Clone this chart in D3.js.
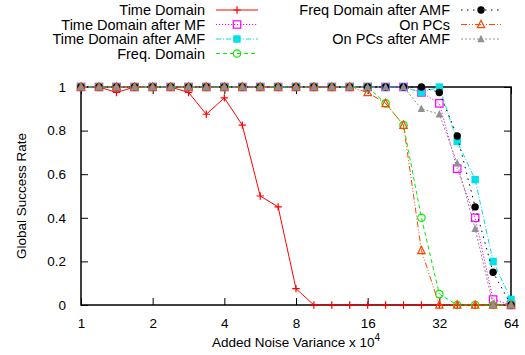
<!DOCTYPE html>
<html>
<head>
<meta charset="utf-8">
<script src="https://cdn.jsdelivr.net/npm/d3@7"></script>
<style>
  html, body { margin: 0; padding: 0; background: #fff; }
  svg { display: block; font-family: "Liberation Sans", Arial, Helvetica, sans-serif; }
</style>
</head>
<body>
<svg id="chart" width="525" height="355"></svg>
<script>
// Added noise variance (x 10^4), quarter-octave steps
const noise = [1, 1.19, 1.41, 1.68, 2, 2.38, 2.83, 3.36, 4, 4.76, 5.66, 6.73, 8,
               9.51, 11.31, 13.45, 16, 19.03, 22.63, 26.91, 32, 38.05, 45.25, 53.82, 64];

const timeDomain     = [1, 1, 0.975, 1, 1, 1, 0.975, 0.875, 0.95, 0.825, 0.5, 0.45, 0.075,
                        0, 0, 0, 0, 0, 0, 0, 0, 0, 0, 0, 0];
const timeDomainMF   = [1, 1, 1, 1, 1, 1, 1, 1, 1, 1, 1, 1, 1,
                        1, 1, 1, 1, 1, 1, 0.975, 0.925, 0.625, 0.4, 0.025, 0];
const timeDomainAMF  = [1, 1, 1, 1, 1, 1, 1, 1, 1, 1, 1, 1, 1,
                        1, 1, 1, 1, 1, 1, 0.975, 1, 0.75, 0.575, 0.2, 0.025];
const freqDomain     = [1, 1, 1, 1, 1, 1, 1, 1, 1, 1, 1, 1, 1,
                        1, 1, 1, 1, 0.925, 0.825, 0.4, 0.05, 0, 0, 0, 0];
const freqDomainAMF  = [1, 1, 1, 1, 1, 1, 1, 1, 1, 1, 1, 1, 1,
                        1, 1, 1, 1, 1, 1, 1, 0.975, 0.775, 0.45, 0.15, 0];
const onPCs          = [1, 1, 1, 1, 1, 1, 1, 1, 1, 1, 1, 1, 1,
                        1, 1, 1, 0.975, 0.925, 0.825, 0.25, 0, 0, 0, 0, 0];
const onPCsAMF       = [1, 1, 1, 1, 1, 1, 1, 1, 1, 1, 1, 1, 1,
                        1, 1, 1, 1, 1, 1, 0.9, 0.875, 0.65, 0.35, 0, 0];

const xTicks = [1, 2, 4, 8, 16, 32, 64];
const yTicks = [0, 0.2, 0.4, 0.6, 0.8, 1];

const series = [
  { name: "Time Domain",            values: timeDomain,    color: "#ff0000", dash: null,          marker: "plus",   col: 0, row: 0 },
  { name: "Time Domain after MF",   values: timeDomainMF,  color: "#ff00ff", dash: "1.2,1.8",     marker: "square", col: 0, row: 1 },
  { name: "Time Domain after AMF",  values: timeDomainAMF, color: "#00e0e8", dash: "5,2,1,2",     marker: "fsquare",col: 0, row: 2 },
  { name: "Freq. Domain",           values: freqDomain,    color: "#00ee00", dash: "4,3",         marker: "circle", col: 0, row: 3 },
  { name: "Freq Domain after AMF",  values: freqDomainAMF, color: "#000000", dash: "1.5,4.5",     marker: "fcircle",col: 1, row: 0 },
  { name: "On PCs",                 values: onPCs,         color: "#ff4500", dash: "6,2,1,2,1,2", marker: "tri",    col: 1, row: 1 },
  { name: "On PCs after AMF",       values: onPCsAMF,      color: "#909090", dash: "2,2",         marker: "ftri",   col: 1, row: 2 }
];

const svg = d3.select("#chart");
const margin = { left: 81, right: 14, top: 87, bottom: 50 };
const W = 525, H = 355;

const x = d3.scaleLog().base(2).domain([1, 64]).range([margin.left, W - margin.right]);
const y = d3.scaleLinear().domain([0, 1]).range([H - margin.bottom, margin.top]);

const x0 = x.range()[0], x1 = x.range()[1];
const y0 = y.range()[0], y1 = y.range()[1];

// Axis ticks and labels (ticks point inward, mirrored on top and right)
const axisG = svg.append("g");
const tickLen = 7;

const xAxisB = d3.axisBottom(x).tickValues(xTicks).tickFormat(d3.format("d"))
  .tickSizeInner(-tickLen).tickSizeOuter(0).tickPadding(tickLen + 6);
const xAxisT = d3.axisTop(x).tickValues(xTicks).tickFormat("")
  .tickSizeInner(-tickLen).tickSizeOuter(0);
const yAxisL = d3.axisLeft(y).tickValues(yTicks).tickFormat(d => d === 0 || d === 1 ? d3.format("d")(d) : d3.format(".1f")(d))
  .tickSizeInner(-tickLen).tickSizeOuter(0).tickPadding(tickLen + 8);
const yAxisR = d3.axisRight(y).tickValues(yTicks).tickFormat("")
  .tickSizeInner(-tickLen).tickSizeOuter(0);

function styleAxis(g) {
  g.select(".domain").remove();
  g.selectAll(".tick line").attr("stroke", "#000").attr("stroke-width", 1);
  g.selectAll(".tick text").attr("fill", "#000").style("font-size", "13.5px")
    .style("font-family", '"Liberation Sans", Arial, Helvetica, sans-serif');
}

axisG.append("g").attr("transform", `translate(0,${y0})`).call(xAxisB).call(styleAxis);
axisG.append("g").attr("transform", `translate(0,${y1})`).call(xAxisT).call(styleAxis);
axisG.append("g").attr("transform", `translate(${x0},0)`).call(yAxisL).call(styleAxis);
axisG.append("g").attr("transform", `translate(${x1},0)`).call(yAxisR).call(styleAxis);

// Plot border
svg.append("rect")
  .attr("x", x0).attr("y", y1).attr("width", x1 - x0).attr("height", y0 - y1)
  .attr("fill", "none").attr("stroke", "#000").attr("stroke-width", 1.5);

// Axis titles
const xTitle = svg.append("text")
  .attr("x", (x0 + x1) / 2).attr("y", 347)
  .attr("text-anchor", "middle").style("font-size", "13.5px").attr("fill", "#000");
xTitle.append("tspan").text("Added Noise Variance x 10");
xTitle.append("tspan").attr("dy", -6).style("font-size", "10px").text("4");

svg.append("text")
  .attr("transform", `translate(26,${(y0 + y1) / 2}) rotate(-90)`)
  .attr("text-anchor", "middle").style("font-size", "13.5px").attr("fill", "#000")
  .text("Global Success Rate");

// Marker drawing
function drawMarker(g, type, cx, cy, color) {
  const s = 3.7;
  switch (type) {
    case "plus":
      g.append("path").attr("d", `M${cx - s},${cy}H${cx + s}M${cx},${cy - s}V${cy + s}`)
        .attr("stroke", color).attr("stroke-width", 1.2).attr("fill", "none");
      break;
    case "square":
      g.append("rect").attr("x", cx - s).attr("y", cy - s).attr("width", 2 * s).attr("height", 2 * s)
        .attr("fill", "none").attr("stroke", color).attr("stroke-width", 1.2);
      break;
    case "fsquare":
      g.append("rect").attr("x", cx - s).attr("y", cy - s).attr("width", 2 * s).attr("height", 2 * s)
        .attr("fill", color).attr("stroke", "none");
      break;
    case "circle":
      g.append("circle").attr("cx", cx).attr("cy", cy).attr("r", s)
        .attr("fill", "none").attr("stroke", color).attr("stroke-width", 1.2);
      break;
    case "fcircle":
      g.append("circle").attr("cx", cx).attr("cy", cy).attr("r", s)
        .attr("fill", color).attr("stroke", "none");
      break;
    case "tri":
      g.append("path").attr("d", `M${cx},${cy - s - 0.5}L${cx + s},${cy + s - 0.5}L${cx - s},${cy + s - 0.5}Z`)
        .attr("fill", "none").attr("stroke", color).attr("stroke-width", 1.2);
      break;
    case "ftri":
      g.append("path").attr("d", `M${cx},${cy - s - 0.5}L${cx + s},${cy + s - 0.5}L${cx - s},${cy + s - 0.5}Z`)
        .attr("fill", color).attr("stroke", "none");
      break;
  }
}

const line = d3.line().x(d => x(d[0])).y(d => y(d[1]));

// Series lines and markers, drawn in order so later ones sit on top
series.forEach(s => {
  const pts = noise.map((n, i) => [n, s.values[i]]);
  const g = svg.append("g");
  g.append("path").datum(pts).attr("d", line)
    .attr("fill", "none").attr("stroke", s.color).attr("stroke-width", 1)
    .attr("stroke-dasharray", s.dash);
  pts.forEach(p => drawMarker(g, s.marker, x(p[0]), y(p[1]), s.color));
});

// Legend (two columns, text right-aligned before the sample)
const legendCols = [{ textRight: 205, lineL: 216, lineR: 258 }, { textRight: 450, lineL: 461, lineR: 501 }];
const rowY = [10, 24.5, 39, 53.5];
series.forEach(s => {
  const c = legendCols[s.col];
  const ly = rowY[s.row];
  const g = svg.append("g");
  g.append("text").attr("x", c.textRight).attr("y", ly + 5)
    .attr("text-anchor", "end").style("font-size", "14.5px").attr("fill", "#000").text(s.name);
  g.append("line").attr("x1", c.lineL).attr("x2", c.lineR).attr("y1", ly).attr("y2", ly)
    .attr("stroke", s.color).attr("stroke-width", 1).attr("stroke-dasharray", s.dash);
  drawMarker(g, s.marker, (c.lineL + c.lineR) / 2, ly, s.color);
});
</script>
</body>
</html>
